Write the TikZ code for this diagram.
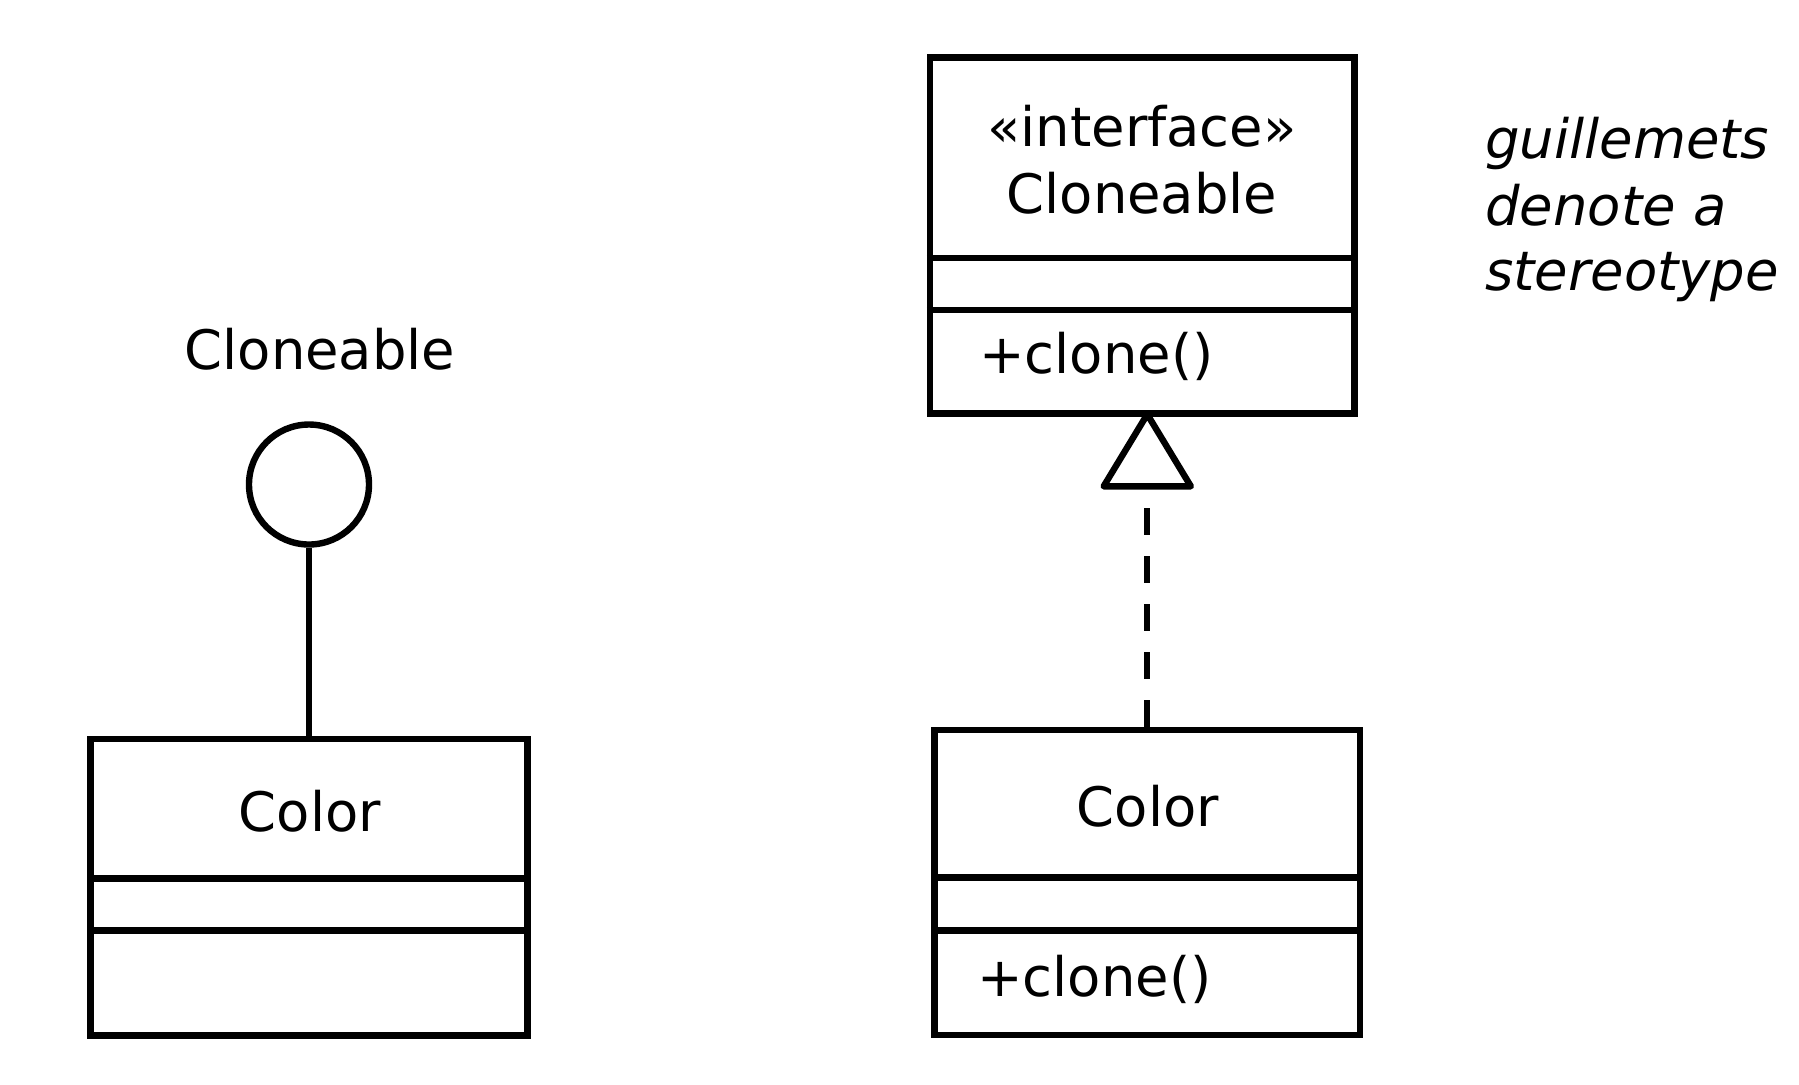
\documentclass[tikz,border=0pt]{standalone}
\usepackage{fontspec}
\setmainfont{DejaVu Sans}
\begin{document}
\begin{tikzpicture}[x=0.25pt,y=-0.25pt,line width=1.6pt,
  umlbox/.style={draw, rectangle, inner sep=0pt},
  lbl/.style={font=\fontsize{13.6}{16}\selectfont, inner sep=0pt},
  notetext/.style={font=\fontsize{13.6}{16}\selectfont\itshape, inner sep=0pt, anchor=base west},
  realize/.style={dash pattern=on 6.75pt off 5.25pt}]
\useasboundingbox (0,0) rectangle (1799,1084);

% left: lollipop notation
\node[umlbox, minimum width=109.25pt, minimum height=74.125pt] (lbox) at (309,887.25) {};
\draw (lbox.west |- 0,878.5) -- (lbox.east |- 0,878.5);
\draw (lbox.west |- 0,930.5) -- (lbox.east |- 0,930.5);
\node[lbl, anchor=base] (lcolor) at (310,831) {Color};
\node[draw, circle, minimum size=30pt, inner sep=0pt] (lollipop) at (309,484.5) {};
\node[lbl, anchor=base] (lcl) at (320,369) {Cloneable};
\draw (lollipop.south) -- (lbox.north);

% right: interface class
\node[umlbox, minimum width=106.125pt, minimum height=89pt] (rtop) at (1142.25,235.5) {};
\draw (rtop.west |- 0,258) -- (rtop.east |- 0,258);
\draw (rtop.west |- 0,310) -- (rtop.east |- 0,310);
\node[lbl, anchor=base] (stereo) at (1142,146) {«interface»};
\node[lbl, anchor=base] (iname) at (1142,213) {Cloneable};
\node[lbl, anchor=base west] (iop) at (976,373) {+clone()};

% right: implementing class
\node[umlbox, minimum width=106.375pt, minimum height=76.25pt] (rbot) at (1147.25,882.5) {};
\draw (rbot.west |- 0,877.5) -- (rbot.east |- 0,877.5);
\draw (rbot.west |- 0,930.5) -- (rbot.east |- 0,930.5);
\node[lbl, anchor=base] (rcolor) at (1148,826) {Color};
\node[lbl, anchor=base west] (rop) at (974,996) {+clone()};

% realization connector
\coordinate (apex) at ([yshift=0.6pt]rbot.north |- rtop.south);
\coordinate (tbase) at ([yshift=-18pt]apex);
\draw[realize] (rbot.north) -- (tbase);
\draw[line join=round] (apex) -- ([xshift=-10.9pt]tbase) -- ([xshift=10.9pt]tbase) -- cycle;

% note
\node[notetext] (note1) at (1482,158) {guillemets};
\node[notetext] (note2) at (1482,225) {denote a};
\node[notetext] (note3) at (1482,290) {stereotype};
\end{tikzpicture}
\end{document}
